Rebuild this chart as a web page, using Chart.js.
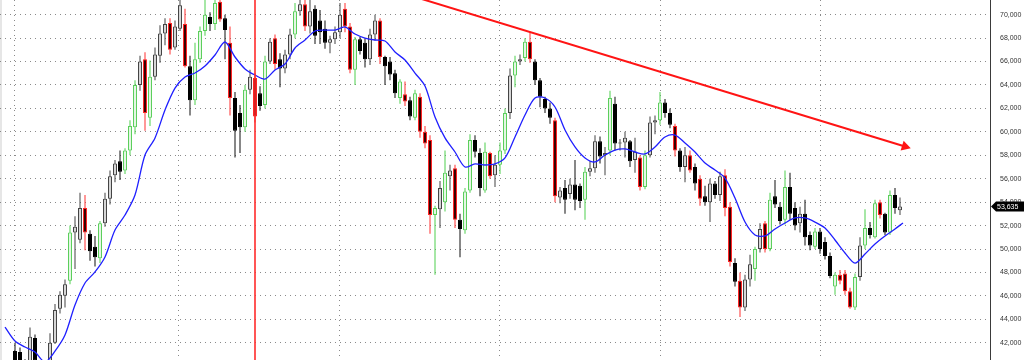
<!DOCTYPE html>
<html>
<head>
<meta charset="utf-8">
<script src="https://cdn.jsdelivr.net/npm/chart.js@4.4.1/dist/chart.umd.min.js"></script>
<style>
html,body{margin:0;padding:0;background:#fff;}
#wrap{width:1030px;height:360px;position:relative;overflow:hidden;}
canvas{display:block;}
</style>
</head>
<body>
<div id="wrap"><canvas id="c" width="1030" height="360"></canvas></div>
<script>
// ---- data ----
const opens = [40200,39900,41300,41200,40300,40400,42400,40400,39900,40400,
42000,44900,46000,47300,51400,50800,53500,51300,50200,49200,
52200,54300,56300,57500,56700,58400,60400,64000,66200,61200,
64700,66500,68400,69300,67200,68800,69200,65600,62700,66200,
68600,69800,69200,71100,69700,67600,62900,61600,60400,63600,
64600,63300,62300,66000,68000,66200,65400,66600,68300,70300,
70900,69000,70500,69500,68800,67600,67900,68500,70500,69000,
65300,67900,67600,66200,68300,69500,66400,66000,65000,62900,
63200,62700,61200,63000,60000,59300,52900,53400,54000,56200,
56900,52500,51600,55000,59300,58200,55000,58200,56300,57200,
58400,61600,64800,66000,66300,67700,66000,64400,62800,62000,
61000,54400,55200,54700,55500,55400,54200,56600,56900,59200,
58000,58400,62400,59000,59100,59200,57600,57800,55300,58000,
60800,61000,62500,61600,60500,58400,57000,58000,57000,56000,
54500,54000,55600,54600,56300,53600,48800,47300,45000,47400,
48300,50000,52200,50000,54500,53600,52500,55300,53500,52200,
53000,51200,50200,51500,50600,49400,46800,47800,47900,46400,
45000,47600,50300,51800,51000,54000,53000,51400,54600,53300];

const highs = [40400,40400,42000,41600,40600,43300,42700,40500,40400,42800,
45300,46400,47400,52000,52800,54800,54600,51600,51100,52400,
54800,56700,57600,58400,58600,61000,64400,66500,66800,66100,
67200,69100,69700,69700,69500,71600,70500,66500,67600,69000,
71300,70200,71900,71900,70000,69000,63400,62300,64000,65300,
65000,63900,66500,68000,68300,66700,67000,68800,71000,71500,
71500,71300,70800,70400,69500,68200,69000,71000,71000,69300,
68100,68100,68000,68800,70000,69700,66500,66400,65300,64500,
64300,63000,63600,63300,60500,59700,53700,55800,58400,57200,
57200,53000,55200,59800,59700,58600,59100,58300,58000,59100,
62000,65400,66500,66600,68000,68500,66200,64600,63000,62500,
61200,55300,55900,56000,57600,55600,57000,57500,59700,59600,
58700,63500,63000,59400,60000,59300,59500,58000,58400,61300,
61400,63400,62800,62000,60700,58600,58700,58400,57300,56300,
55400,56000,55800,56600,56800,54000,49200,48000,47800,49500,
50200,52200,52400,54800,55900,54000,56700,56500,54000,53600,
54200,51500,51800,51800,51000,49700,48000,48200,48200,46700,
47900,51000,53400,52300,54200,54200,53100,55000,55200,54400];

const lows = [39700,39500,40000,39900,40000,40200,40000,39600,39500,40200,
41900,44500,45000,47000,48300,50500,49900,49000,48500,48800,
51900,53800,55700,55900,56400,58000,59800,63500,60100,60500,
64400,65900,67400,66600,67000,68600,65500,61400,62300,65900,
68200,68600,68700,69400,66200,61400,57800,58200,60000,63200,
60800,61800,62000,65800,65300,63800,65000,66200,68000,69900,
68600,68400,67500,67500,67100,66700,67500,68000,68500,65000,
64000,66600,65500,65700,67800,65800,64000,64400,62900,62400,
62200,61000,61000,59500,58600,51300,47800,51800,53200,55000,
51800,49300,51300,54800,57800,54500,54800,56000,55300,56400,
58100,61100,63800,65700,66000,65900,64000,62100,61600,60700,
54000,53900,53000,54300,53300,53500,52500,56200,56500,57300,
56300,58000,58400,58400,57800,57000,56500,55000,55100,57800,
59800,60600,61200,60300,57900,56600,55700,56500,55000,53700,
53700,52300,54300,54100,52800,48500,46800,44200,44700,46800,
47300,49700,49700,49800,53500,52100,52100,52500,51600,51400,
50300,49900,50000,49600,49100,47500,46100,47000,46100,44900,
44800,47300,50000,50900,50900,52600,51200,51200,53000,52900];

const closes = [39900,40100,40300,40300,40500,42500,40500,39900,40200,42000,
44800,46100,47000,51400,51900,53500,51400,49800,49300,52200,
54300,56200,57300,56600,58400,60500,64000,66000,61600,64700,
66600,68400,69200,67000,69000,70800,65600,62700,66200,68600,
70000,69200,71000,69600,68700,62900,60100,60400,63600,64700,
61300,62200,66000,67700,65800,65400,66600,68300,70300,70900,
69000,70300,68200,68500,67600,67900,68500,70000,69000,65300,
67900,66900,66200,68300,69500,66400,65600,64900,63300,64300,
62600,61300,63300,60000,59000,52900,53500,55200,56500,56700,
52500,51700,54900,59300,58300,55200,58300,56200,57200,58400,
61600,64800,66000,66200,67700,66200,64400,63000,62000,61200,
54500,55000,54200,55500,54200,54100,56600,56900,59200,57900,
58200,62900,59000,59100,59500,57500,58300,55300,58000,60800,
61000,62500,61600,60600,58400,57000,58000,56700,55600,54300,
54000,55600,54600,56200,53500,48900,47200,45000,47400,48700,
50000,51700,50000,54200,53800,52400,55300,53000,52000,53000,
51000,50300,51500,50000,49400,47700,47800,47300,46400,45000,
47600,50300,51800,51200,53900,52900,51400,54600,53500,53635];

// signal colouring of the bars: 1 = green bar, -1 = red bar, 0 = plain
const signals = [0,0,0,0,0,0,0,0,0,0,
0,0,0,1,0,0,-1,0,0,1,
0,0,0,0,1,1,1,0,-1,1,
0,0,0,-1,0,0,-1,0,1,1,
1,0,1,-1,0,-1,0,0,1,0,
-1,0,1,0,-1,0,0,0,1,0,
-1,0,0,0,0,0,0,0,-1,-1,
1,0,0,0,0,-1,0,0,0,1,
-1,0,1,-1,-1,-1,1,0,1,0,
-1,0,1,1,0,0,1,-1,0,1,
1,0,1,0,1,-1,0,0,0,0,
-1,0,0,0,0,0,1,0,0,0,
0,1,0,0,0,0,0,-1,1,0,
0,1,0,0,-1,0,0,-1,0,-1,
0,0,0,0,-1,-1,0,-1,0,0,
1,0,-1,1,0,0,1,0,0,0,
0,0,1,0,0,0,1,-1,-1,-1,
1,0,1,0,1,-1,0,1,0,0];

// moving average, sampled every second bar (last sample at the final bar)
const maValues = [43340,42150,41630,41210,40350,41290,42660,45220,47100,48040,
49320,51620,52900,54610,58020,59480,61870,63740,64680,65020,
65620,66560,67670,66390,65370,64850,64510,65280,65790,67160,
67840,68610,68690,68690,68950,68350,68010,67840,67750,66820,
66130,65020,63910,61270,59480,58280,57000,57260,57170,57260,
57770,59560,61440,62890,62890,62120,60160,58710,57770,57430,
58020,58450,58540,58280,58110,58710,59560,59730,59050,58280,
57340,56740,56060,54350,52300,51200,51110,51710,52220,52650,
52650,52300,51790,50770,49660,48800,49570,50430,51110,51710,
52220];

const yTicks = [42000,44000,46000,48000,50000,52000,54000,56000,58000,60000,62000,64000,66000,68000,70000];
const periodStarts = [1.9, 34.6, 66.8, 98.8, 131.0, 163.2]; // bar index of period separators
const markerBar = 50;                                         // vertical red marker (bar index)
const trendStart = {x: 70, y: 73080};
const trendEnd = {x: 180, y: 58750};
const lastPrice = 53635;

// ---- styling ----
const bodyFill   = {g:'#e4f6e4', r:'#3a0000', w:'#d6d6d6', k:'#000000'};
const bodyBorder = {g:'#5ccf5c', r:'#ff2424', w:'#444444', k:'#000000'};
const wickColor  = {g:'#4fcf4f', r:'#ff3030', w:'#444444', k:'#111111'};

function kind(i){
  if (signals[i] === 1) return 'g';
  if (signals[i] === -1) return 'r';
  return closes[i] >= opens[i] ? 'w' : 'k';
}
const idx = opens.map((_, i) => i);

const wickData = idx.map(i => ({x: i, y: [lows[i], highs[i]]}));
const bodyData = idx.map(i => ({x: i, y: [Math.min(opens[i], closes[i]), Math.max(opens[i], closes[i])]}));
const maData = maValues.map((v, k) => ({x: k < maValues.length - 1 ? 2 * k : opens.length - 0.4, y: v}));

const bgPlugin = {
  id: 'bg',
  beforeDraw(chart){
    const ctx = chart.ctx;
    ctx.save();
    ctx.fillStyle = '#ffffff';
    ctx.fillRect(0, 0, chart.width, chart.height);
    ctx.fillStyle = '#e6e6e6';
    ctx.fillRect(0, 0, 2, chart.height);
    ctx.restore();
  }
};

const tagPlugin = {
  id: 'priceTag',
  afterDraw(chart){
    const ctx = chart.ctx;
    const y = Math.round(chart.scales.y.getPixelForValue(lastPrice)) + 0.5;
    const x0 = chart.chartArea.right;
    ctx.save();
    ctx.fillStyle = '#000000';
    ctx.beginPath();
    ctx.moveTo(x0 + 1, y);
    ctx.lineTo(x0 + 6, y - 5);
    ctx.lineTo(x0 + 34, y - 5);
    ctx.lineTo(x0 + 34, y + 5);
    ctx.lineTo(x0 + 6, y + 5);
    ctx.closePath();
    ctx.fill();
    ctx.fillStyle = '#ffffff';
    ctx.font = '7px "Liberation Sans", Arial, sans-serif';
    ctx.textAlign = 'left';
    ctx.textBaseline = 'middle';
    ctx.fillText(lastPrice.toLocaleString('en-US'), x0 + 7, y + 0.5);
    ctx.restore();
  }
};

new Chart(document.getElementById('c'), {
  type: 'bar',
  data: {
    datasets: [
      {
        type: 'bar', label: 'wick', data: wickData,
        backgroundColor: idx.map(i => wickColor[kind(i)]),
        borderWidth: 0, barThickness: 1, grouped: false, inflateAmount: 0, order: 4
      },
      {
        type: 'bar', label: 'body', data: bodyData,
        backgroundColor: idx.map(i => bodyFill[kind(i)]),
        borderColor: idx.map(i => bodyBorder[kind(i)]),
        borderWidth: 1, borderSkipped: false, barThickness: 4, minBarLength: 1,
        grouped: false, inflateAmount: 0, order: 3
      },
      {
        type: 'line', label: 'MA', data: maData,
        borderColor: '#1f1fff', borderWidth: 1.3, pointRadius: 0, tension: 0.3, order: 2
      },
      {
        type: 'line', label: 'marker', data: [{x: markerBar, y: 30000}, {x: markerBar, y: 80000}],
        borderColor: '#ff2b2b', borderWidth: 1.6, pointRadius: 0, order: 1
      },
      {
        type: 'line', label: 'trend', data: [trendStart, trendEnd],
        borderColor: '#ff1414', borderWidth: 2,
        pointRadius: [0, 6], pointStyle: 'triangle', pointRotation: 107,
        pointBackgroundColor: '#ff1414', pointBorderColor: '#ff1414', pointBorderWidth: 0,
        order: 0
      }
    ]
  },
  options: {
    responsive: false,
    maintainAspectRatio: false,
    animation: false,
    devicePixelRatio: 1,
    layout: {padding: 0, autoPadding: false},
    plugins: {legend: {display: false}, tooltip: {enabled: false}},
    scales: {
      x: {
        type: 'linear', min: -1, max: 197, offset: false,
        afterBuildTicks(scale){ scale.ticks = periodStarts.map(v => ({value: v})); },
        ticks: {display: false},
        grid: {offset: false, drawTicks: false, color: '#8a8a8a', lineWidth: 1},
        border: {display: false, dash: [1, 4]}
      },
      y: {
        type: 'linear', position: 'right', min: 40525, max: 71255, beginAtZero: false,
        afterBuildTicks(scale){ scale.ticks = yTicks.map(v => ({value: v})); },
        afterFit(scale){ scale.width = 40; scale.paddingTop = 0; scale.paddingBottom = 0; },
        ticks: {
          padding: 10, color: '#333333',
          font: {family: '"Liberation Sans", Arial, sans-serif', size: 7},
          callback: v => Number(v).toLocaleString('en-US')
        },
        grid: {drawTicks: false, color: '#8a8a8a', lineWidth: 1},
        border: {display: true, color: '#3a3a3a', width: 1, dash: [1, 4]}
      }
    }
  },
  plugins: [bgPlugin, tagPlugin]
});
</script>
</body>
</html>
